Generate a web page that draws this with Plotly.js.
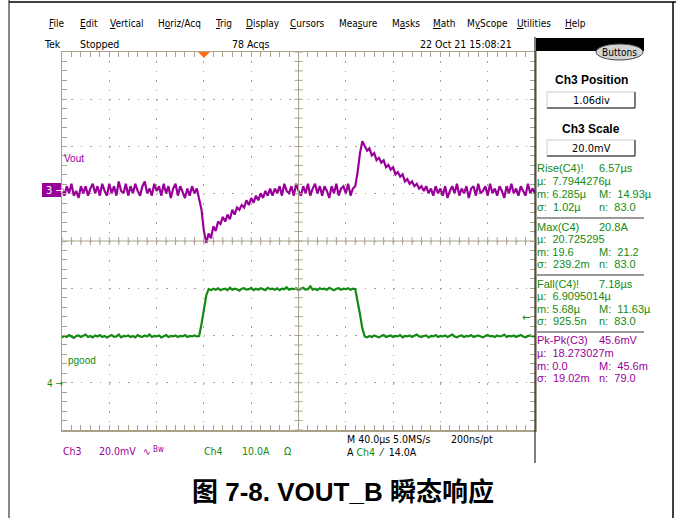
<!DOCTYPE html>
<html><head><meta charset="utf-8">
<script src="https://cdn.plot.ly/plotly-3.0.1.min.js"></script>
<style>html,body{margin:0;padding:0;background:#fff;}#chart{width:676px;height:518px;}</style>
</head><body><div id="chart"></div>
<script>
// ---- data (time in µs relative to trigger; Ch3 in mV about its marker; Ch4 in A) ----
const tStart = -120, tStep = 2, nPts = 201;
const vout_mV = [
 1,-2,2,-1,3,-2,0,-3,2,-1,
 2,-2,1,3,-1,2,-2,3,0,-2,
 3,-1,2,-2,4,0,-1,3,-2,2,
 -1,3,0,-2,2,4,-1,1,-2,3,
 0,2,-2,3,-1,2,-3,1,3,-2,
 2,-1,-3,1,-2,2,-1,1,-3,-8,
 -17,-22,-18,-20,-15,-17,-13,-14,-11,-13,
 -10,-12,-8,-10,-7,-8,-6,-7,-4,-6,
 -3,-5,-2,-4,-1,-3,0,-2,1,-2,
 1,-1,2,-2,3,0,-1,2,-2,3,
 0,-2,2,-1,3,-2,1,3,-1,2,
 -2,2,0,-3,2,-1,3,-2,1,2,
 -1,3,-2,1,2,8,16,21,19,17,
 18,15,16,13,14,12,13,10,11,9,
 10,7,8,6,7,4,5,3,4,2,
 3,1,2,0,2,-1,1,-2,2,-1,
 1,-2,2,-3,0,2,-1,3,-2,1,
 -1,2,-3,1,2,-2,3,-1,0,2,
 -2,3,-1,1,-2,2,0,-3,2,-1,
 3,-1,1,-2,2,0,-2,3,-1,1,-1
];
const ch4_A = [
 9.6,9.9,9.7,10.1,9.8,9.5,9.9,10.0,9.7,9.9,
 10.2,9.7,9.9,9.6,10.0,9.8,10.1,9.7,9.9,9.6,
 9.9,10.1,9.7,9.8,10.2,9.6,9.9,9.8,10.0,9.7,
 9.9,9.6,10.1,9.8,9.7,10.0,9.8,10.2,9.7,9.9,
 9.8,10.0,9.6,9.9,10.1,9.7,9.9,9.8,10.0,9.7,
 9.9,9.8,10.1,9.7,9.9,9.8,10.0,9.8,9.9,12.5,
 15.5,18.5,19.8,19.6,19.9,19.7,20.0,19.6,19.8,19.9,
 19.6,20.1,19.7,19.9,19.8,19.5,19.9,20.0,19.7,19.8,
 20.1,19.6,19.9,19.7,20.0,19.8,19.6,20.1,19.8,19.9,
 19.7,20.0,19.6,19.9,19.8,20.2,19.7,19.9,19.8,20.0,
 19.6,19.9,20.1,19.7,19.8,20.4,19.7,19.9,19.6,20.0,
 19.8,19.9,19.7,20.1,19.8,19.6,19.9,20.0,19.7,19.9,
 19.8,20.0,19.7,19.9,19.8,17.5,14.5,11.5,9.8,9.6,
 9.9,9.7,10.0,9.8,9.6,9.9,10.1,9.7,9.8,10.0,
 9.7,9.9,9.8,10.1,9.6,9.9,9.8,10.0,9.7,9.9,
 10.2,9.8,9.7,9.9,10.0,9.6,9.9,9.8,10.1,9.7,
 9.9,9.8,10.0,9.7,9.9,10.2,9.8,9.6,9.9,10.0,
 9.7,9.9,9.8,10.1,9.7,9.9,10.0,9.8,9.6,9.9,
 10.1,9.8,9.9,9.7,10.0,9.8,9.9,10.2,9.7,9.9,
 9.8,10.0,9.7,9.9,10.1,9.8,9.6,9.9,10.0,9.8,9.9
];
const time_us = [];
for (let i = 0; i < nPts; i++) time_us.push(tStart + i * tStep);

const menuItems = ["<u>F</u>ile","<u>E</u>dit","<u>V</u>ertical","H<u>o</u>riz/Acq","<u>T</u>rig","<u>D</u>isplay","<u>C</u>ursors","Mea<u>s</u>ure","M<u>a</u>sks","<u>M</u>ath","M<u>y</u>Scope","<u>U</u>tilities","<u>H</u>elp"];
const menuX = [47,78,108,156,213,244,288,337,390,431,465,515,563];

// ---- layout helpers (pixel -> paper) ----
const L = 62, R = 535, T = 52, B = 430;
const px = v => (v - L) / (R - L);
const py = v => (B - v) / (B - T);
const GC = '#aaa28a';
const PURPLE = '#990099', GREEN = '#138a13';
const UI = 'Liberation Sans Narrow, DejaVu Sans Condensed, Arial Narrow, sans-serif';
const SANS = 'Liberation Sans, Arial, sans-serif';

const ann = [];
function txt(x, y, text, color, size, opts) {
  ann.push(Object.assign({xref:'paper', yref:'paper', x:px(x), y:py(y), text:text, showarrow:false,
    xanchor:'left', yanchor:'middle', font:{family:UI, size:size||11, color:color||'#000'}}, opts||{}));
}
menuItems.forEach((m,i)=>txt(menuX[i], 24, m, '#000', 10));
txt(42, 44, 'Tek', '#000', 10.5);
txt(78, 44, 'Stopped', '#000', 10.5);
txt(230, 44, '78 Acqs', '#000', 10.5);
txt(418, 44, '22 Oct 21 15:08:21', '#000', 10.5);
txt(619, 52, 'Buttons', '#000', 10, {xanchor:'center'});
txt(591, 80, '<b>Ch3 Position</b>', '#000', 12, {xanchor:'center', font:{family:SANS,size:12,color:'#000'}});
txt(591, 100, '1.06div', '#000', 11, {xanchor:'center'});
txt(591, 129, '<b>Ch3 Scale</b>', '#000', 12, {xanchor:'center', font:{family:SANS,size:12,color:'#000'}});
txt(591, 148, '20.0mV', '#000', 11, {xanchor:'center'});

const meas = [
  [168,'Rise(C4)!','6.57µs',GREEN],[181,'µ:  7.7944276µ','',GREEN],[194,'m: 6.285µ','M:  14.93µ',GREEN],[207,'σ:  1.02µ','n:  83.0',GREEN],
  [227,'Max(C4)','20.8A',GREEN],[239,'µ:  20.725295','',GREEN],[252,'m: 19.6','M:  21.2',GREEN],[264,'σ:  239.2m','n:  83.0',GREEN],
  [284,'Fall(C4)!','7.18µs',GREEN],[296,'µ:  6.9095014µ','',GREEN],[309,'m: 5.68µ','M:  11.63µ',GREEN],[321,'σ:  925.5n','n:  83.0',GREEN],
  [340,'Pk-Pk(C3)','45.6mV',PURPLE],[353,'µ:  18.273027m','',PURPLE],[366,'m: 0.0','M:  45.6m',PURPLE],[378,'σ:  19.02m','n:  79.0',PURPLE]
];
meas.forEach(r=>{
  txt(535, r[0], r[1], r[3], 11, {font:{family:SANS,size:11,color:r[3]}});
  if (r[2]) txt(597, r[0], r[2], r[3], 11, {font:{family:SANS,size:11,color:r[3]}});
});

txt(62, 158, 'Vout', PURPLE, 10, {font:{family:SANS,size:10,color:PURPLE}});
txt(66, 360, 'pgood', GREEN, 10, {font:{family:SANS,size:10,color:GREEN}});
txt(44, 190, '3 →', '#fff', 11);
txt(45, 383, '4 →', GREEN, 10);
txt(520, 317, '←', GREEN, 11);

txt(61, 451, 'Ch3', PURPLE, 10.5);
txt(97, 451, '20.0mV', PURPLE, 10.5);
txt(141, 451, '∿', PURPLE, 10);
txt(151, 449, 'Bw', PURPLE, 8);
txt(202, 451, 'Ch4', GREEN, 10.5);
txt(240, 451, '10.0A', GREEN, 10.5);
txt(282, 451, 'Ω', GREEN, 10.5);
txt(345, 439, 'M 40.0µs 5.0MS/s', '#000', 10.5);
txt(449, 439, '200ns/pt', '#000', 10.5);
txt(345, 452, 'A <span style="color:'+GREEN+'">Ch4</span>  ⁄  14.0A', '#000', 10.5);

ann.push({xref:'paper', yref:'paper', x:px(343), y:py(492), text:'<b>图 7-8. VOUT_B 瞬态响应</b>', showarrow:false,
  xanchor:'center', yanchor:'middle', font:{family:'Liberation Sans, Noto Sans CJK SC, sans-serif', size:26, color:'#000'}});

// ---- shapes ----
const shapes = [];
function pline(x0,y0,x1,y1,color,w){ shapes.push({type:'line',xref:'paper',yref:'paper',x0:px(x0),y0:py(y0),x1:px(x1),y1:py(y1),line:{color:color,width:w}}); }
pline(9,0,9,518,'#888',2);
pline(9,2,676,2,'#000',1.5);
pline(673,2,673,518,'#000',1.5);
pline(535,37,535,463,'#000',1);
shapes.push({type:'rect',xref:'paper',yref:'paper',x0:px(536),x1:px(644),y0:py(38),y1:py(51),fillcolor:'#000',line:{width:0}});
shapes.push({type:'circle',xref:'paper',yref:'paper',x0:px(596),x1:px(643),y0:py(44),y1:py(60),fillcolor:'#d4d4d4',line:{color:'#444',width:1}});
// buttons
[[92,108],[140,156]].forEach(b=>{
  shapes.push({type:'rect',xref:'paper',yref:'paper',x0:px(547),x1:px(635),y0:py(b[0]),y1:py(b[1]),fillcolor:'#fff',line:{color:'#ccc',width:1}});
  pline(547,b[1],635,b[1],'#555',1.5); pline(635,b[0],635,b[1],'#555',1.5);
});
[218,275,332].forEach(y=>pline(537,y,644,y,'#777',1.5));
// Ch3 marker box
shapes.push({type:'rect',xref:'paper',yref:'paper',x0:px(42),x1:px(61),y0:py(183),y1:py(197),fillcolor:PURPLE,line:{width:0}});
// trigger position marker
shapes.push({type:'path',xref:'paper',yref:'paper',path:'M '+px(198)+' '+py(52)+' L '+px(210)+' '+py(52)+' L '+px(204)+' '+py(58)+' Z',fillcolor:'#ff6a13',line:{width:0}});
// center crosshair with ticks (decoration)
const xMid = 80;
shapes.push({type:'line',xref:'x',yref:'y',x0:xMid,x1:xMid,y0:-4,y1:4,line:{color:GC,width:1}});
shapes.push({type:'line',xref:'x',yref:'y',x0:-120,x1:280,y0:0,y1:0,line:{color:GC,width:1}});
for (let t = -120; t <= 280; t += 8) shapes.push({type:'line',xref:'x',yref:'y',x0:t,x1:t,y0:-0.085,y1:0.085,line:{color:GC,width:1}});
for (let d = -4; d <= 4.001; d += 0.2) shapes.push({type:'line',xref:'x',yref:'y',x0:xMid-3.4,x1:xMid+3.4,y0:d,y1:d,line:{color:GC,width:1}});

const data = [
  {x: time_us, y: ch4_A, yaxis:'y3', type:'scatter', mode:'lines', line:{color:GREEN, width:2.2}, hoverinfo:'skip'},
  {x: time_us, y: vout_mV, yaxis:'y2', type:'scatter', mode:'lines', line:{color:PURPLE, width:2.2}, hoverinfo:'skip'}
];

const layout = {
  width:676, height:518, paper_bgcolor:'#fff', plot_bgcolor:'#fff', showlegend:false,
  margin:{l:L, r:676-R, t:T, b:518-B, pad:0},
  xaxis:{range:[-120,280], tick0:0, dtick:40, showgrid:true, gridcolor:GC, griddash:'1.5px,7.96px', gridwidth:1,
    zeroline:false, showline:true, linecolor:GC, linewidth:1.5, mirror:'ticks', ticks:'inside', ticklen:5, tickcolor:GC,
    minor:{dtick:8, tick0:0, ticks:'inside', ticklen:5, tickcolor:GC, showgrid:false}, showticklabels:false, fixedrange:true},
  yaxis:{range:[-4,4], tick0:0, dtick:1, showgrid:true, gridcolor:GC, griddash:'1.5px,7.96px', gridwidth:1,
    zeroline:false, showline:true, linecolor:GC, linewidth:1.5, mirror:'ticks', ticks:'inside', ticklen:5, tickcolor:GC,
    minor:{dtick:0.2, tick0:0, ticks:'inside', ticklen:5, tickcolor:GC, showgrid:false}, showticklabels:false, fixedrange:true},
  yaxis2:{overlaying:'y', range:[(-4-1.06)*20, (4-1.06)*20], visible:false, fixedrange:true},
  yaxis3:{overlaying:'y', range:[(-4+3)*10, (4+3)*10], visible:false, fixedrange:true},
  shapes:shapes, annotations:ann
};
Plotly.newPlot('chart', data, layout, {staticPlot:true, displayModeBar:false});
</script></body></html>
